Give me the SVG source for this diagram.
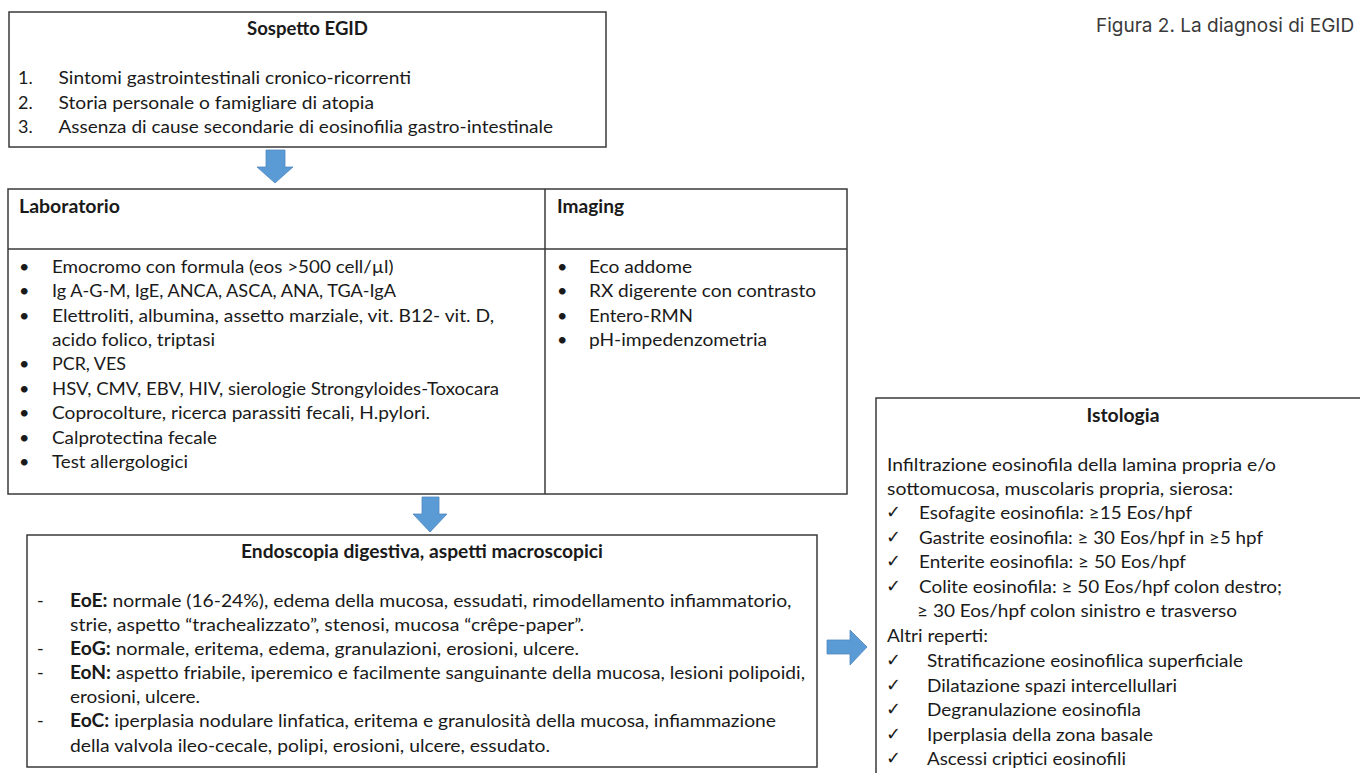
<svg xmlns="http://www.w3.org/2000/svg" width="1360" height="773" viewBox="0 0 1360 773">
<style>
.box{fill:#fff;stroke:#3a3a3a;stroke-width:1.5}
.ln{stroke:#3a3a3a;stroke-width:1.5;fill:none}
.t{font-family:Lato,"Liberation Sans",sans-serif;font-size:18px;fill:#1a1a1a}
.b{font-weight:bold}
.c{text-anchor:middle}
.ck{font-family:"DejaVu Sans",sans-serif;font-size:18px;fill:#1a1a1a}
.arr{fill:#5B9BD5;stroke:#4f88c2;stroke-width:0.8}
.cap{font-family:Inter,"Liberation Sans",sans-serif;font-size:19px;fill:#3a3a3a}
</style>
<rect width="1360" height="773" fill="#fff"/>
<text class="cap" x="1096" y="32">Figura 2. La diagnosi di EGID</text>

<g id="sospetto">
<rect class="box" x="9" y="12" width="597" height="135"/>
<text class="t b c" x="307.5" y="35" textLength="121" lengthAdjust="spacingAndGlyphs">Sospetto EGID</text>
<text class="t" x="18" y="84">1.</text>
<text class="t" x="58.5" y="84" textLength="352.5" lengthAdjust="spacingAndGlyphs">Sintomi gastrointestinali cronico-ricorrenti</text>
<text class="t" x="18" y="109">2.</text>
<text class="t" x="58.5" y="109" textLength="315.5" lengthAdjust="spacingAndGlyphs">Storia personale o famigliare di atopia</text>
<text class="t" x="18" y="133">3.</text>
<text class="t" x="58.5" y="133" textLength="494.5" lengthAdjust="spacingAndGlyphs">Assenza di cause secondarie di eosinofilia gastro-intestinale</text>
</g>

<g id="esami">
<rect class="box" x="8" y="189" width="839" height="305"/>
<line class="ln" x1="8" y1="249" x2="847" y2="249"/>
<line class="ln" x1="545" y1="189" x2="545" y2="494"/>
<text class="t b" x="19" y="213" textLength="101" lengthAdjust="spacingAndGlyphs">Laboratorio</text>
<text class="t b" x="557" y="213" textLength="67" lengthAdjust="spacingAndGlyphs">Imaging</text>
<g class="t">
<text x="19" y="273">•</text><text x="52" y="273" textLength="341.5" lengthAdjust="spacingAndGlyphs">Emocromo con formula (eos &gt;500 cell/µl)</text>
<text x="19" y="297">•</text><text x="52" y="297" textLength="344" lengthAdjust="spacingAndGlyphs">Ig A-G-M, IgE, ANCA, ASCA, ANA, TGA-IgA</text>
<text x="19" y="322">•</text><text x="52" y="322" textLength="442" lengthAdjust="spacingAndGlyphs">Elettroliti, albumina, assetto marziale, vit. B12- vit. D,</text>
<text x="52" y="346" textLength="163" lengthAdjust="spacingAndGlyphs">acido folico, triptasi</text>
<text x="19" y="370">•</text><text x="52" y="370" textLength="74" lengthAdjust="spacingAndGlyphs">PCR, VES</text>
<text x="19" y="395">•</text><text x="52" y="395" textLength="447" lengthAdjust="spacingAndGlyphs">HSV, CMV, EBV, HIV, sierologie Strongyloides-Toxocara</text>
<text x="19" y="419">•</text><text x="52" y="419" textLength="378" lengthAdjust="spacingAndGlyphs">Coprocolture, ricerca parassiti fecali, H.pylori.</text>
<text x="19" y="444">•</text><text x="52" y="444" textLength="165" lengthAdjust="spacingAndGlyphs">Calprotectina fecale</text>
<text x="19" y="468">•</text><text x="52" y="468" textLength="136" lengthAdjust="spacingAndGlyphs">Test allergologici</text>
<text x="557" y="273">•</text><text x="589" y="273" textLength="103" lengthAdjust="spacingAndGlyphs">Eco addome</text>
<text x="557" y="297">•</text><text x="589" y="297" textLength="227" lengthAdjust="spacingAndGlyphs">RX digerente con contrasto</text>
<text x="557" y="322">•</text><text x="589" y="322" textLength="104" lengthAdjust="spacingAndGlyphs">Entero-RMN</text>
<text x="557" y="346">•</text><text x="589" y="346" textLength="178" lengthAdjust="spacingAndGlyphs">pH-impedenzometria</text>
</g>
</g>

<g id="endoscopia">
<rect class="box" x="27" y="535" width="790" height="232"/>
<text class="t b c" x="422" y="558" textLength="362" lengthAdjust="spacingAndGlyphs">Endoscopia digestiva, aspetti macroscopici</text>
<g class="t">
<text x="37" y="607">-</text><text x="70" y="607" textLength="721.5" lengthAdjust="spacingAndGlyphs"><tspan class="b">EoE:</tspan> normale (16-24%), edema della mucosa, essudati, rimodellamento infiammatorio,</text>
<text x="70" y="631" textLength="514" lengthAdjust="spacingAndGlyphs">strie, aspetto “trachealizzato”, stenosi, mucosa “crêpe-paper”.</text>
<text x="37" y="655">-</text><text x="70" y="655" textLength="509" lengthAdjust="spacingAndGlyphs"><tspan class="b">EoG:</tspan> normale, eritema, edema, granulazioni, erosioni, ulcere.</text>
<text x="37" y="679">-</text><text x="70" y="679" textLength="735" lengthAdjust="spacingAndGlyphs"><tspan class="b">EoN:</tspan> aspetto friabile, iperemico e facilmente sanguinante della mucosa, lesioni polipoidi,</text>
<text x="70" y="703" textLength="130" lengthAdjust="spacingAndGlyphs">erosioni, ulcere.</text>
<text x="37" y="727">-</text><text x="70" y="727" textLength="706" lengthAdjust="spacingAndGlyphs"><tspan class="b">EoC:</tspan> iperplasia nodulare linfatica, eritema e granulosità della mucosa, infiammazione</text>
<text x="70" y="752" textLength="480" lengthAdjust="spacingAndGlyphs">della valvola ileo-cecale, polipi, erosioni, ulcere, essudato.</text>
</g>
</g>

<g id="istologia">
<rect class="box" x="876" y="398" width="520" height="420"/>
<text class="t b c" x="1123" y="422" textLength="73" lengthAdjust="spacingAndGlyphs">Istologia</text>
<g class="t">
<text x="887" y="471" textLength="389" lengthAdjust="spacingAndGlyphs">Infiltrazione eosinofila della lamina propria e/o</text>
<text x="887" y="495" textLength="346" lengthAdjust="spacingAndGlyphs">sottomucosa, muscolaris propria, sierosa:</text>
<text x="919" y="519" textLength="273" lengthAdjust="spacingAndGlyphs">Esofagite eosinofila: ≥15 Eos/hpf</text>
<text x="919" y="544" textLength="344" lengthAdjust="spacingAndGlyphs">Gastrite eosinofila: ≥ 30 Eos/hpf in ≥5 hpf</text>
<text x="919" y="568" textLength="267" lengthAdjust="spacingAndGlyphs">Enterite eosinofila: ≥ 50 Eos/hpf</text>
<text x="919" y="593" textLength="363" lengthAdjust="spacingAndGlyphs">Colite eosinofila: ≥ 50 Eos/hpf colon destro;</text>
<text x="917" y="617" textLength="320" lengthAdjust="spacingAndGlyphs">≥ 30 Eos/hpf colon sinistro e trasverso</text>
<text x="887" y="642" textLength="101" lengthAdjust="spacingAndGlyphs">Altri reperti:</text>
<text x="927" y="667" textLength="316" lengthAdjust="spacingAndGlyphs">Stratificazione eosinofilica superficiale</text>
<text x="927" y="692" textLength="250" lengthAdjust="spacingAndGlyphs">Dilatazione spazi intercellullari</text>
<text x="927" y="716" textLength="214" lengthAdjust="spacingAndGlyphs">Degranulazione eosinofila</text>
<text x="927" y="741" textLength="226" lengthAdjust="spacingAndGlyphs">Iperplasia della zona basale</text>
<text x="927" y="765" textLength="199" lengthAdjust="spacingAndGlyphs">Ascessi criptici eosinofili</text>
</g>
<g class="ck">
<text x="886" y="518">✓</text>
<text x="886" y="543">✓</text>
<text x="886" y="567">✓</text>
<text x="886" y="592">✓</text>
<text x="886" y="666">✓</text>
<text x="886" y="691">✓</text>
<text x="886" y="715">✓</text>
<text x="886" y="740">✓</text>
<text x="886" y="764">✓</text>
</g>
</g>

<g id="connectors">
<polygon class="arr" points="266,150 285,150 285,167 293,167 275,183 257,167 266,167"/>
<polygon class="arr" points="422,497 439,497 439,514 447,514 430,532 413,514 422,514"/>
<polygon class="arr" points="827,640 850,640 850,630 867,647 850,665 850,654 827,654"/>
</g>
</svg>
